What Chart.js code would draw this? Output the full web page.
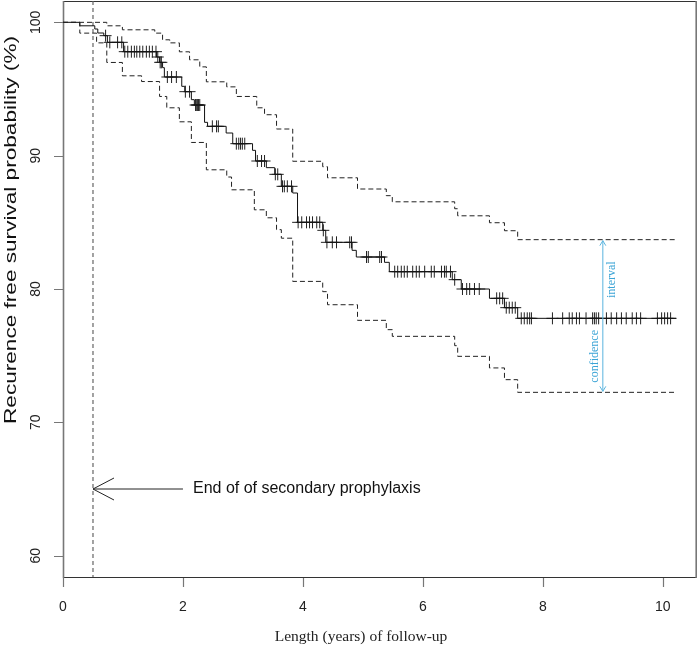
<!DOCTYPE html>
<html lang="en">
<head>
<meta charset="UTF-8">
<title>Recurence free survival</title>
<script src="https://cdn.jsdelivr.net/npm/chart.js"></script>
<style>
  html, body { margin: 0; padding: 0; background: #fff; }
  #wrap { position: relative; width: 698px; height: 645px; }
</style>
</head>
<body>
<div id="wrap"><canvas id="km"></canvas></div>
<script>
  // Kaplan-Meier estimate (step starts at each time)
  const survTimes = [0, 0.28, 0.53, 0.58, 0.68, 0.74, 1.01, 1.56, 1.61, 1.66, 1.69, 1.98, 2.03, 2.14, 2.19,
    2.36, 2.41, 2.72, 2.83, 3.16, 3.21, 3.39, 3.53, 3.64, 3.83, 3.91, 4.33, 4.38, 4.82, 4.89, 5.36, 5.44,
    6.49, 6.64, 7.11, 7.36, 7.58, 10.22];
  const survValues = [100, 99.74, 99.5, 99.2, 99.0, 98.5, 97.8, 97.4, 97.0, 96.6, 95.9, 95.2, 94.8, 94.2, 93.8,
    92.5, 92.2, 91.7, 90.9, 90.4, 89.6, 89.1, 88.6, 87.7, 87.2, 85.0, 84.4, 83.5, 82.9, 82.4, 82.0, 81.3,
    80.7, 80.0, 79.3, 78.6, 77.8, 77.8];

  // upper and lower confidence limits
  const upperTimes = [0, 0.73, 0.99, 1.53, 1.66, 1.78, 1.94, 2.11, 2.28, 2.39, 2.73, 2.89, 3.23, 3.36, 3.56,
    3.83, 4.33, 4.41, 4.91, 5.39, 5.49, 6.53, 6.58, 7.11, 7.36, 7.58, 10.22];
  const upperValues = [100, 99.74, 99.44, 99.19, 98.69, 98.46, 97.79, 97.19, 96.66, 95.54, 95.16, 94.44, 93.59,
    93.07, 92.0, 89.58, 89.17, 88.34, 87.5, 87.0, 86.54, 86.02, 85.49, 84.97, 84.37, 83.7, 83.7];

  const lowerTimes = [0, 0.28, 0.56, 0.73, 0.99, 1.31, 1.61, 1.73, 1.94, 2.14, 2.39, 2.73, 2.81, 3.19, 3.39,
    3.56, 3.64, 3.83, 4.33, 4.41, 4.91, 5.39, 5.49, 6.53, 6.58, 7.11, 7.36, 7.58, 10.22];
  const lowerValues = [100, 99.19, 98.46, 96.99, 95.99, 95.56, 94.44, 93.59, 92.54, 90.99, 88.94, 88.4, 87.44,
    85.94, 85.34, 84.45, 83.81, 80.57, 79.8, 78.82, 77.65, 76.95, 76.45, 75.75, 74.95, 74.08, 73.2, 72.25, 72.25];

  // censored follow-up times
  const censorTimes = [0.71, 0.78, 0.91, 0.98, 1.03, 1.08, 1.14, 1.19, 1.23, 1.28, 1.33, 1.39, 1.44, 1.49, 1.55,
    1.58, 1.62, 1.64, 1.74, 1.81, 1.89, 2.04, 2.11, 2.21, 2.23, 2.24, 2.26, 2.28, 2.49, 2.56, 2.59,
    2.89, 2.93, 2.96, 2.99, 3.03, 3.24, 3.31, 3.36, 3.54, 3.58, 3.66, 3.69, 3.74, 3.81, 3.92, 3.98, 4.06,
    4.11, 4.16, 4.23, 4.28, 4.34, 4.40, 4.49, 4.56, 4.78, 4.81, 5.06, 5.09, 5.28, 5.31, 5.53, 5.58, 5.64,
    5.69, 5.74, 5.83, 5.89, 5.94, 6.03, 6.14, 6.19, 6.31, 6.36, 6.39, 6.46, 6.53, 6.66, 6.73, 6.78, 6.86,
    6.94, 7.23, 7.28, 7.33, 7.39, 7.44, 7.49, 7.54, 7.64, 7.69, 7.74, 7.78, 7.81, 8.16, 8.33, 8.44, 8.49,
    8.56, 8.61, 8.72, 8.83, 8.86, 8.89, 8.93, 9.06, 9.14, 9.23, 9.31, 9.39, 9.49, 9.56, 9.63, 9.91, 9.98,
    10.03, 10.08, 10.13];

  const xTicks = [0, 2, 4, 6, 8, 10];
  const yTicks = [60, 70, 80, 90, 100];
  const xRange = [0, 10.57];
  const yRange = [58.4, 101.6];

  const prophylaxisEnd = 0.5;
  const arrowLevel = 65;
  const arrowTail = 2.0;
  const arrowLabel = 'End of of secondary prophylaxis';
  const ciMarkTime = 9;

  const xTitle = 'Length (years) of follow-up';
  const yTitle = 'Recurence free survival probability (%)';

  const toPoints = (ts, vs) => ts.map((t, i) => ({ x: t, y: vs[i] }));

  const survivalAt = (t) => {
    let v = survValues[0];
    survTimes.forEach((s, i) => { if (s <= t) v = survValues[i]; });
    return v;
  };

  const openHead = (ctx, tipX, tipY, dx, dy, len, half) => {
    // dx, dy: unit direction pointing back from the tip
    ctx.beginPath();
    ctx.moveTo(tipX + dx * len - dy * half, tipY + dy * len + dx * half);
    ctx.lineTo(tipX, tipY);
    ctx.lineTo(tipX + dx * len + dy * half, tipY + dy * len - dx * half);
    ctx.stroke();
  };

  const decorations = {
    id: 'decorations',
    beforeDatasetsDraw(chart) {
      const { ctx, chartArea: a, scales: { x, y } } = chart;
      ctx.save();

      // frame
      ctx.lineWidth = 1;
      ctx.strokeStyle = '#333';
      ctx.beginPath();
      ctx.moveTo(a.left, a.top + 0.5); ctx.lineTo(a.right, a.top + 0.5);
      ctx.moveTo(a.left, a.bottom + 0.5); ctx.lineTo(a.right, a.bottom + 0.5);
      ctx.stroke();
      ctx.strokeStyle = '#777';
      ctx.lineWidth = 1.6;
      ctx.beginPath();
      ctx.moveTo(a.left + 0.5, a.top); ctx.lineTo(a.left + 0.5, a.bottom + 1);
      ctx.moveTo(a.right - 0.8, a.top); ctx.lineTo(a.right - 0.8, a.bottom + 1);
      ctx.stroke();

      // ticks
      ctx.strokeStyle = '#777';
      ctx.lineWidth = 1.2;
      ctx.beginPath();
      xTicks.forEach(t => {
        const px = Math.round(x.getPixelForValue(t)) + 0.5;
        ctx.moveTo(px, a.bottom + 1); ctx.lineTo(px, a.bottom + 10);
      });
      yTicks.forEach(t => {
        const py = Math.round(y.getPixelForValue(t)) + 0.5;
        ctx.moveTo(a.left - 9, py); ctx.lineTo(a.left, py);
      });
      ctx.stroke();

      // tick labels
      ctx.fillStyle = '#222';
      ctx.font = '14px "Liberation Sans", Arial, sans-serif';
      ctx.textAlign = 'center';
      ctx.textBaseline = 'middle';
      xTicks.forEach(t => ctx.fillText(String(t), x.getPixelForValue(t), a.bottom + 30));
      yTicks.forEach(t => {
        ctx.save();
        ctx.translate(a.left - 27, y.getPixelForValue(t));
        ctx.rotate(-Math.PI / 2);
        ctx.fillText(String(t), 0, 0);
        ctx.restore();
      });

      // axis titles
      ctx.font = '15.5px "Liberation Serif", "Times New Roman", serif';
      ctx.fillStyle = '#222';
      ctx.fillText(xTitle, 361, a.bottom + 60);

      ctx.save();
      ctx.font = '16px "Liberation Sans", Arial, sans-serif';
      ctx.translate(12, 230);
      ctx.rotate(-Math.PI / 2);
      const w = ctx.measureText(yTitle).width;
      ctx.scale(388 / w, 1);
      ctx.fillStyle = '#111';
      ctx.fillText(yTitle, 0, 0);
      ctx.restore();

      // end of prophylaxis line
      const vx = x.getPixelForValue(prophylaxisEnd);
      ctx.strokeStyle = '#666';
      ctx.lineWidth = 1.2;
      ctx.setLineDash([4, 3]);
      ctx.beginPath();
      ctx.moveTo(vx, a.top); ctx.lineTo(vx, a.bottom);
      ctx.stroke();
      ctx.setLineDash([]);

      ctx.restore();
    },
    afterDatasetsDraw(chart) {
      const { ctx, scales: { x, y } } = chart;
      ctx.save();

      // arrow to the end of prophylaxis
      const ay = y.getPixelForValue(arrowLevel);
      const tip = x.getPixelForValue(prophylaxisEnd);
      const tail = x.getPixelForValue(arrowTail);
      ctx.strokeStyle = '#222';
      ctx.lineWidth = 1;
      ctx.beginPath();
      ctx.moveTo(tail, ay); ctx.lineTo(tip, ay);
      ctx.stroke();
      openHead(ctx, tip, ay, 1, 0, 21, 11);
      ctx.fillStyle = '#111';
      ctx.font = '16px "Liberation Sans", Arial, sans-serif';
      ctx.textAlign = 'left';
      ctx.textBaseline = 'middle';
      ctx.fillText(arrowLabel, tail + 10, ay);

      // confidence interval marker
      const cx = x.getPixelForValue(ciMarkTime);
      const top = y.getPixelForValue(upperValues[upperValues.length - 1]);
      const bot = y.getPixelForValue(lowerValues[lowerValues.length - 1]);
      ctx.strokeStyle = '#5ab4de';
      ctx.lineWidth = 1;
      ctx.beginPath();
      ctx.moveTo(cx, top + 1); ctx.lineTo(cx, bot - 1);
      ctx.stroke();
      openHead(ctx, cx, top + 1, 0, 1, 5, 3);
      openHead(ctx, cx, bot - 1, 0, -1, 5, 3);

      ctx.fillStyle = '#3ba4d6';
      ctx.font = '12px "Liberation Serif", "Times New Roman", serif';
      ctx.textAlign = 'center';
      ctx.save();
      ctx.translate(cx + 9, top + 40);
      ctx.rotate(-Math.PI / 2);
      ctx.fillText('interval', 0, 0);
      ctx.restore();
      ctx.save();
      ctx.translate(cx - 8, bot - 36);
      ctx.rotate(-Math.PI / 2);
      ctx.fillText('confidence', 0, 0);
      ctx.restore();

      ctx.restore();
    }
  };

  const lineStyle = {
    type: 'line',
    stepped: 'before',
    borderWidth: 1,
    pointRadius: 0,
    fill: false
  };

  new Chart(document.getElementById('km'), {
    data: {
      datasets: [
        { ...lineStyle, label: 'Upper', data: toPoints(upperTimes, upperValues), borderColor: '#222', borderDash: [5, 3] },
        { ...lineStyle, label: 'Lower', data: toPoints(lowerTimes, lowerValues), borderColor: '#222', borderDash: [5, 3] },
        { ...lineStyle, label: 'Survival', data: toPoints(survTimes, survValues), borderColor: '#111' },
        {
          type: 'scatter',
          label: 'Censored',
          data: censorTimes.map(t => ({ x: t, y: survivalAt(t) })),
          pointStyle: 'cross',
          pointRadius: 6,
          pointBorderWidth: 1,
          pointBorderColor: '#222',
          showLine: false
        }
      ]
    },
    options: {
      responsive: true,
      maintainAspectRatio: false,
      animation: false,
      events: [],
      layout: { autoPadding: false, padding: { left: 63, right: 1, top: 1, bottom: 68 } },
      plugins: { legend: { display: false }, tooltip: { enabled: false } },
      scales: {
        x: { type: 'linear', min: xRange[0], max: xRange[1], display: false },
        y: { type: 'linear', min: yRange[0], max: yRange[1], display: false }
      }
    },
    plugins: [decorations]
  });
</script>
</body>
</html>
